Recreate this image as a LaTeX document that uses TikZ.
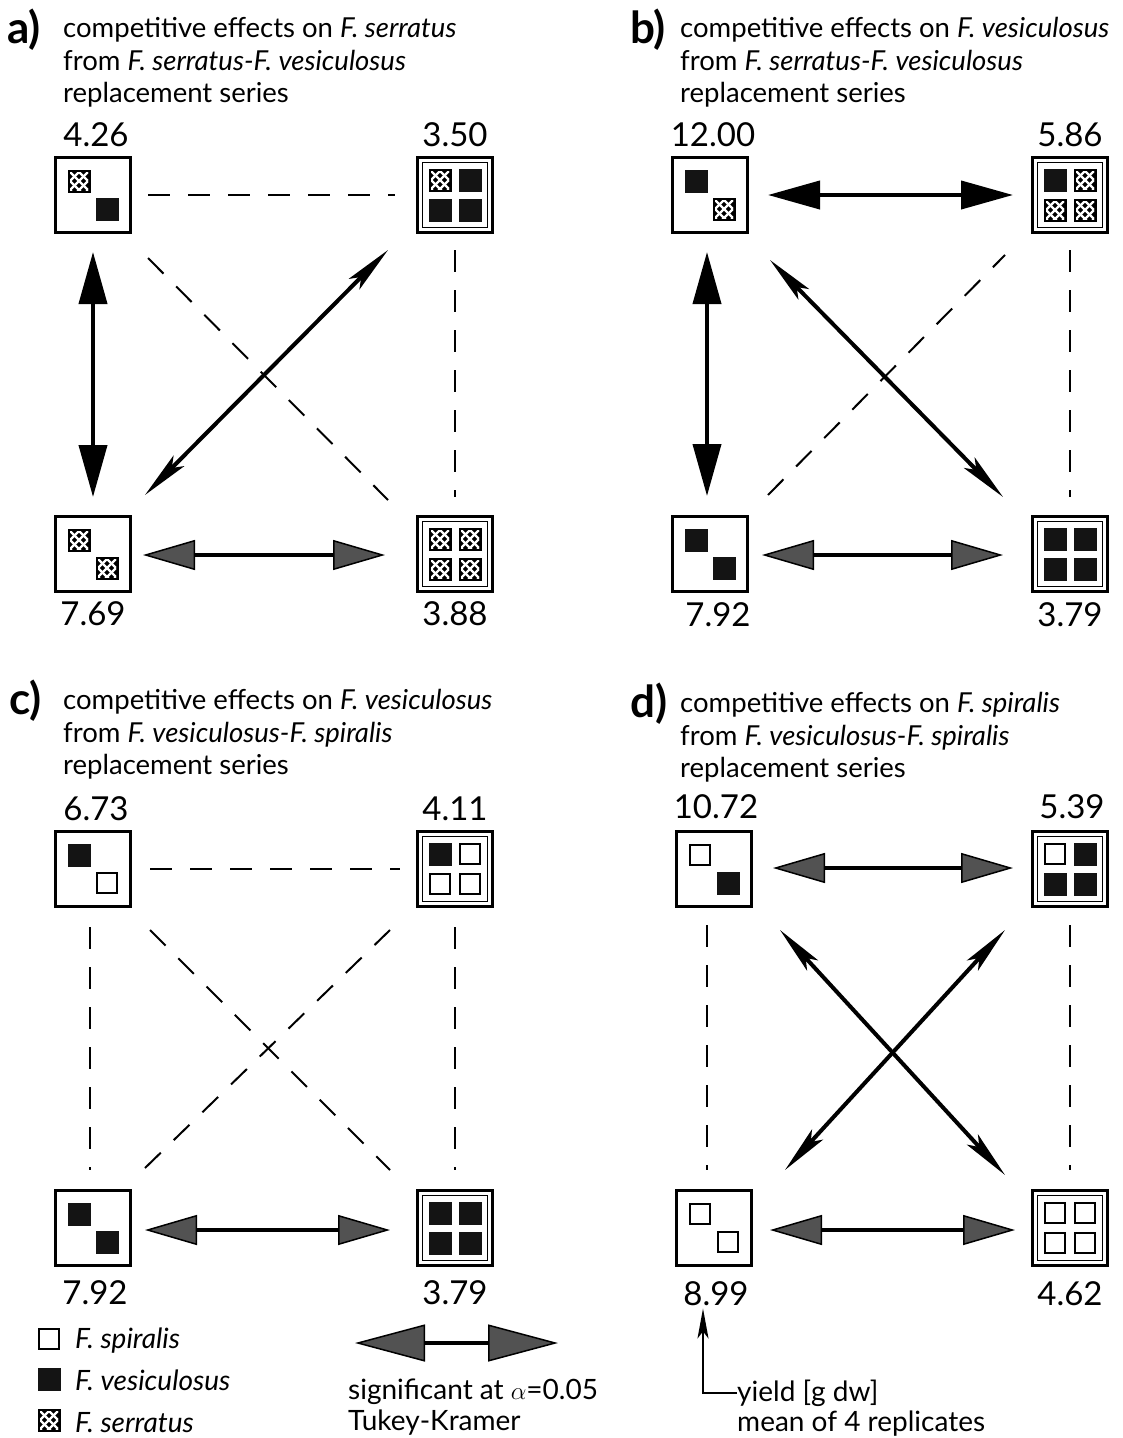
\documentclass[tikz,border=0pt]{standalone}
\usepackage{fontspec}
\setmainfont{Lato}
\usetikzlibrary{arrows.meta,calc}

\tikzset{
  plotbox/.style={draw, line width=2.5pt, minimum size=75pt, inner sep=0pt, fill=white},
  numtxt/.style={font=\fontsize{33}{33}\selectfont, anchor=base, inner sep=0pt},
  captxt/.style={font=\fontsize{27.5}{30}\selectfont, anchor=base west, inner sep=0pt},
  legtxt/.style={font=\fontsize{28}{30}\selectfont, anchor=base west, inner sep=0pt},
  lbltxt/.style={font=\bfseries\fontsize{44}{44}\selectfont, anchor=base west, inner sep=0pt},
  dsh/.style={line width=2pt, dash pattern=on 22pt off 18pt},
  sigarrow/.style={line width=4pt, {Triangle[length=52pt, width=30pt, fill=black!68, line width=1.5pt]}-{Triangle[length=52pt, width=30pt, fill=black!68, line width=1.5pt]}},
  sigbig/.style={line width=4pt, {Triangle[length=70pt, width=37pt, fill=black!68, line width=1.5pt]}-{Triangle[length=70pt, width=37pt, fill=black!68, line width=1.5pt]}},
  strongarrow/.style={line width=4pt, {Triangle[length=52pt, width=28pt]}-{Triangle[length=52pt, width=28pt]}},
  narrowarrow/.style={line width=4pt, {Stealth[length=48pt, width=15pt, inset=10pt]}-{Stealth[length=48pt, width=15pt, inset=10pt]}},
  % plant symbols
  pics/ser/.style={code={
    \fill[black] (-11.5,-11.5) rectangle (11.5,11.5);
    \begin{scope}
      \clip (-9,-9) rectangle (9,9);
      \foreach \d in {-18,-9,0,9,18}{
        \draw[white, line width=2.4pt] (\d-12,-12) -- (\d+12,12);
        \draw[white, line width=2.4pt] (\d-12,12) -- (\d+12,-12);
      }
    \end{scope}
  }},
  pics/ves/.style={code={\fill[black!92] (-11.5,-11.5) rectangle (11.5,11.5);}},
  pics/spi/.style={code={\draw[line width=2.2pt, fill=white] (-10,-10) rectangle (10,10);}},
}

% plot with two plants on the diagonal
\newcommand\twoplot[4]{%
  \node[plotbox] (#1) at (#2) {};
  \path (#1.center) ++(-14,-14) pic {#3};
  \path (#1.center) ++(14,14) pic {#4};
}
% plot with four plants, double frame
\newcommand\fourplot[6]{%
  \node[plotbox] (#1) at (#2) {};
  \draw[line width=1pt] ($(#1.center)+(-32.5,-32.5)$) rectangle ($(#1.center)+(32.5,32.5)$);
  \path (#1.center) ++(-15,-15) pic {#3};
  \path (#1.center) ++(15,-15) pic {#4};
  \path (#1.center) ++(-15,15) pic {#5};
  \path (#1.center) ++(15,15) pic {#6};
}

\begin{document}
\begin{tikzpicture}[x=1pt, y=-1pt]
\useasboundingbox[fill=white] (0,0) rectangle (1123,1438);

% ---------------- panel a ----------------
\node[lbltxt] (la) at (7,43) {a)};
\node[captxt] (ta1) at (63,37) {competitive effects on \textit{F. serratus}};
\node[captxt] (ta2) at (63,70) {from \textit{F. serratus-F. vesiculosus}};
\node[captxt] (ta3) at (63,102) {replacement series};
\twoplot{aTL}{93,195}{ser}{ves}
\fourplot{aTR}{455,195}{ser}{ves}{ves}{ves}
\twoplot{aBL}{93,554}{ser}{ser}
\fourplot{aBR}{455,554}{ser}{ser}{ser}{ser}
\node[numtxt] (naTL) at (96,146) {4.26};
\node[numtxt] (naTR) at (455,146) {3.50};
\node[numtxt] (naBL) at (93,625) {7.69};
\node[numtxt] (naBR) at (455,625) {3.88};
\draw[dsh] ($(aTL.center)+(55,0)$) -- ($(aTR.center)+(-60,0)$);
\draw[strongarrow] ($(aTL.center)+(0,57)$) -- ($(aBL.center)+(0,-57)$);
\draw[dsh] ($(aTR.center)+(0,55)$) -- ($(aBR.center)+(0,-57)$);
\draw[dsh] ($(aTL.center)+(55,63)$) -- ($(aBR.center)+(-67,-54)$);
\draw[narrowarrow] ($(aTR.center)+(-67,55)$) -- ($(aBL.center)+(52,-59)$);
\draw[sigarrow] ($(aBL.center)+(50,1)$) -- ($(aBR.center)+(-70,1)$);

% ---------------- panel b ----------------
\node[lbltxt] (lb) at (630,43) {b)};
\node[captxt] (tb1) at (680,37) {competitive effects on \textit{F. vesiculosus}};
\node[captxt] (tb2) at (680,70) {from \textit{F. serratus-F. vesiculosus}};
\node[captxt] (tb3) at (680,102) {replacement series};
\twoplot{bTL}{710,195}{ves}{ser}
\fourplot{bTR}{1070,195}{ves}{ser}{ser}{ser}
\twoplot{bBL}{710,554}{ves}{ves}
\fourplot{bBR}{1070,554}{ves}{ves}{ves}{ves}
\node[numtxt] (nbTL) at (713,146) {12.00};
\node[numtxt] (nbTR) at (1070,146) {5.86};
\node[numtxt] (nbBL) at (718,626) {7.92};
\node[numtxt] (nbBR) at (1070,626) {3.79};
\draw[strongarrow] ($(bTL.center)+(58,0)$) -- ($(bTR.center)+(-57,0)$);
\draw[strongarrow] ($(bTL.center)+(-3,57)$) -- ($(bBL.center)+(-3,-58)$);
\draw[dsh] ($(bTR.center)+(0,55)$) -- ($(bBR.center)+(0,-57)$);
\draw[narrowarrow] ($(bTL.center)+(60,65)$) -- ($(bBR.center)+(-67,-57)$);
\draw[dsh] ($(bBL.center)+(58,-59)$) -- ($(bTR.center)+(-65,60)$);
\draw[sigarrow] ($(bBL.center)+(52,1)$) -- ($(bBR.center)+(-67,1)$);

% ---------------- panel c ----------------
\node[lbltxt] (lc) at (9,714) {c)};
\node[captxt] (tc1) at (63,709) {competitive effects on \textit{F. vesiculosus}};
\node[captxt] (tc2) at (63,742) {from \textit{F. vesiculosus-F. spiralis}};
\node[captxt] (tc3) at (63,774) {replacement series};
\twoplot{cTL}{93,869}{ves}{spi}
\fourplot{cTR}{455,869}{ves}{spi}{spi}{spi}
\twoplot{cBL}{93,1228}{ves}{ves}
\fourplot{cBR}{455,1228}{ves}{ves}{ves}{ves}
\node[numtxt] (ncTL) at (96,820) {6.73};
\node[numtxt] (ncTR) at (455,820) {4.11};
\node[numtxt] (ncBL) at (95,1304) {7.92};
\node[numtxt] (ncBR) at (455,1304) {3.79};
\draw[dsh] ($(cTL.center)+(57,0)$) -- ($(cTR.center)+(-55,0)$);
\draw[dsh] ($(cTL.center)+(-3,58)$) -- ($(cBL.center)+(-3,-58)$);
\draw[dsh] ($(cTR.center)+(0,58)$) -- ($(cBR.center)+(0,-58)$);
\draw[dsh] ($(cTL.center)+(57,61)$) -- ($(cBR.center)+(-65,-58)$);
\draw[dsh] ($(cBL.center)+(52,-60)$) -- ($(cTR.center)+(-65,61)$);
\draw[sigarrow] ($(cBL.center)+(52,2)$) -- ($(cBR.center)+(-65,2)$);

% ---------------- panel d ----------------
\node[lbltxt] (ld) at (630,717) {d)};
\node[captxt] (td1) at (680,712) {competitive effects on \textit{F. spiralis}};
\node[captxt] (td2) at (680,745) {from \textit{F. vesiculosus-F. spiralis}};
\node[captxt] (td3) at (680,777) {replacement series};
\twoplot{dTL}{714,869}{spi}{ves}
\fourplot{dTR}{1070,869}{spi}{ves}{ves}{ves}
\twoplot{dBL}{714,1228}{spi}{spi}
\fourplot{dBR}{1070,1228}{spi}{spi}{spi}{spi}
\node[numtxt] (ndTL) at (716,818) {10.72};
\node[numtxt] (ndTR) at (1072,818) {5.39};
\node[numtxt] (ndBL) at (716,1305) {8.99};
\node[numtxt] (ndBR) at (1070,1305) {4.62};
\draw[sigarrow] ($(dTL.center)+(59,-1)$) -- ($(dTR.center)+(-57,-1)$);
\draw[dsh] ($(dTL.center)+(-7,56)$) -- ($(dBL.center)+(-7,-58)$);
\draw[dsh] ($(dTR.center)+(0,56)$) -- ($(dBR.center)+(0,-58)$);
\draw[narrowarrow] ($(dTL.center)+(66,61)$) -- ($(dBR.center)+(-65,-53)$);
\draw[narrowarrow] ($(dBL.center)+(71,-58)$) -- ($(dTR.center)+(-65,61)$);
\draw[sigarrow] ($(dBL.center)+(56,2)$) -- ($(dBR.center)+(-55,2)$);

% ---------------- legend ----------------
\path (49,1339) pic {spi};
\path (49,1379) pic {ves};
\path (49,1420) pic {ser};
\node[legtxt] (lg1) at (75,1348) {\textit{F. spiralis}};
\node[legtxt] (lg2) at (75,1390) {\textit{F. vesiculosus}};
\node[legtxt] (lg3) at (75,1432) {\textit{F. serratus}};
\coordinate (sgL) at (355,1343);
\coordinate (sgR) at (558,1343);
\draw[sigbig] (sgL) -- (sgR);
\node[legtxt] (sg1) at (348,1399) {significant at $\alpha$=0.05};
\node[legtxt] (sg2) at (348,1430) {Tukey-Kramer};
\node[legtxt] (yl1) at (737,1401) {yield [g dw]};
\node[legtxt] (yl2) at (737,1431) {mean of 4 replicates};
\draw[line width=2pt, -{Stealth[length=30pt, width=11pt, inset=7pt]}] (yl1.west) -| ($(ndBL.south)+(-13,3)$);
\end{tikzpicture}
\end{document}
